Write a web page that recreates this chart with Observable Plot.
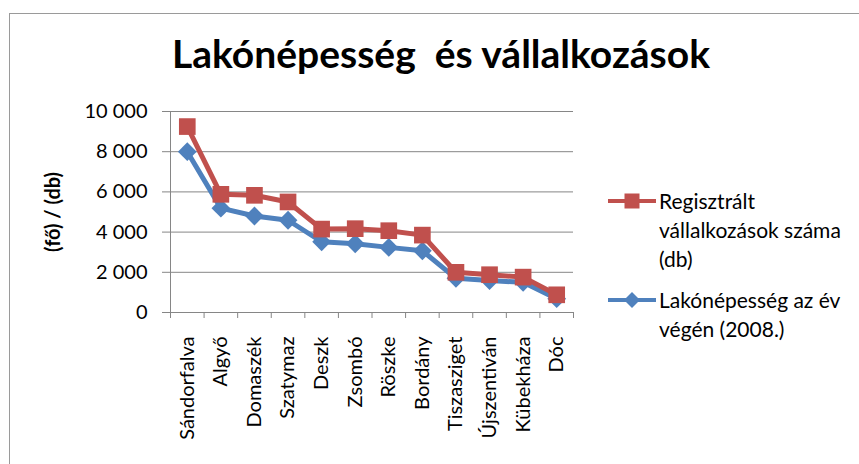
<!DOCTYPE html>
<html><head><meta charset="utf-8">
<script src="https://cdn.jsdelivr.net/npm/d3@7"></script>
<script src="https://cdn.jsdelivr.net/npm/@observablehq/plot@0.6"></script>
<style>
body{margin:0;background:#fff;}
#wrap{position:relative;width:859px;height:464px;overflow:hidden;font-family:Lato, "Open Sans", sans-serif;color:#000;}
#frame{position:absolute;left:9px;top:13px;right:-5px;bottom:-5px;border-left:1px solid #9a9a9a;border-top:1px solid #9a9a9a;}
#title{position:absolute;left:0;width:882px;top:30px;text-align:center;font-weight:bold;font-size:39px;line-height:47px;white-space:pre;}
#ytitle{position:absolute;left:52px;top:212px;transform:translate(-50%,-50%) rotate(-90deg);font-weight:bold;font-size:20px;white-space:nowrap;}
#chart{position:absolute;left:0;top:0;}
#legend{position:absolute;left:580px;top:170px;}
</style></head>
<body>
<div id="wrap">
  <div id="frame"></div>
  <div id="chart"></div>
  <div id="title"></div>
  <div id="ytitle"></div>
  <svg id="legend" width="279" height="200"></svg>
</div>
<script>
const titleText = "Lakónépesség  és vállalkozások";
const yTitle = "(fő) / (db)";
const categories = ["Sándorfalva","Algyő","Domaszék","Szatymaz","Deszk","Zsombó","Röszke","Bordány","Tiszasziget","Újszentiván","Kübekháza","Dóc"];
const vallalkozasok = [9250, 5880, 5830, 5500, 4150, 4170, 4070, 3850, 2000, 1880, 1760, 880];
const lakonepesseg = [8000, 5190, 4800, 4590, 3520, 3420, 3240, 3070, 1700, 1590, 1500, 690];
const yTicks = [0, 2000, 4000, 6000, 8000, 10000];
const seriesNames = ["Regisztrált vállalkozások száma (db)", "Lakónépesség az év végén (2008.)"];
const legendLines = [["Regisztrált","vállalkozások száma","(db)"],["Lakónépesség az év","végén (2008.)"]];
const colors = {red:"#C0504D", blue:"#4F81BD", grid:"#868686"};

document.getElementById("title").textContent = titleText;
document.getElementById("ytitle").textContent = yTitle;

const n = categories.length;
const idx = d3.range(n);
const boundaries = d3.range(n + 1).map(i => i - 0.5);
const redData = idx.map(i => ({i, v: vallalkozasok[i]}));
const blueData = idx.map(i => ({i, v: lakonepesseg[i]}));
const fmt = d => d3.format(",")(d).replace(/,/g, "\u00a0");
const diamond = {draw(ctx, size){ const r = Math.sqrt(size/2); ctx.moveTo(0,-r); ctx.lineTo(r,0); ctx.lineTo(0,r); ctx.lineTo(-r,0); ctx.closePath(); }};

const chart = Plot.plot({
  width: 859, height: 464,
  marginLeft: 170, marginRight: 286, marginTop: 111, marginBottom: 152,
  style: {fontFamily: "Lato, 'Open Sans', sans-serif", fontSize: "20px", color: "#000", background: "transparent"},
  x: {type: "linear", domain: [-0.5, n - 0.5]},
  y: {domain: [0, 10000]},
  marks: [
    Plot.ruleY(yTicks, {stroke: colors.grid, strokeWidth: 1}),
    Plot.ruleX([-0.5], {stroke: colors.grid, strokeWidth: 1}),
    Plot.axisY({ticks: yTicks, tickSize: 8, tickPadding: 15, tickFormat: fmt, stroke: colors.grid, label: null}),
    Plot.axisX({ticks: idx, tickFormat: i => categories[i], tickRotate: -90, tickSize: 0, tickPadding: 24, label: null}),
    Plot.axisX({ticks: boundaries, tickSize: 6, tickFormat: () => "", stroke: colors.grid, label: null}),
    Plot.line(blueData, {x: "i", y: "v", stroke: colors.blue, strokeWidth: 5, strokeLinejoin: "round"}),
    Plot.dot(blueData, {x: "i", y: "v", symbol: diamond, r: 7.5, fill: colors.blue, stroke: "none"}),
    Plot.line(redData, {x: "i", y: "v", stroke: colors.red, strokeWidth: 5, strokeLinejoin: "round"}),
    Plot.dot(redData, {x: "i", y: "v", symbol: "square", r: 9.4, fill: colors.red, stroke: "none"})
  ]
});
document.getElementById("chart").appendChild(chart);

// legend
const lg = d3.select("#legend");
const items = [
  {lines: legendLines[0], color: colors.red, sym: "square", y: 31},
  {lines: legendLines[1], color: colors.blue, sym: "diamond", y: 130}
];
items.forEach(it => {
  lg.append("line").attr("x1", 28).attr("x2", 76).attr("y1", it.y).attr("y2", it.y)
    .attr("stroke", it.color).attr("stroke-width", 4);
  if (it.sym === "square") {
    lg.append("rect").attr("x", 52 - 7.5).attr("y", it.y - 7.5).attr("width", 15).attr("height", 15).attr("fill", it.color);
  } else {
    lg.append("path").attr("d", `M52,${it.y-8}L60,${it.y}L52,${it.y+8}L44,${it.y}Z`).attr("fill", it.color);
  }
  const t = lg.append("text").attr("x", 79).attr("font-family", "Lato, 'Open Sans', sans-serif").attr("font-size", 21);
  it.lines.forEach((s, k) => t.append("tspan").attr("x", 79).attr("y", it.y + 8 + k * 29).text(s));
});
</script>
</body></html>
